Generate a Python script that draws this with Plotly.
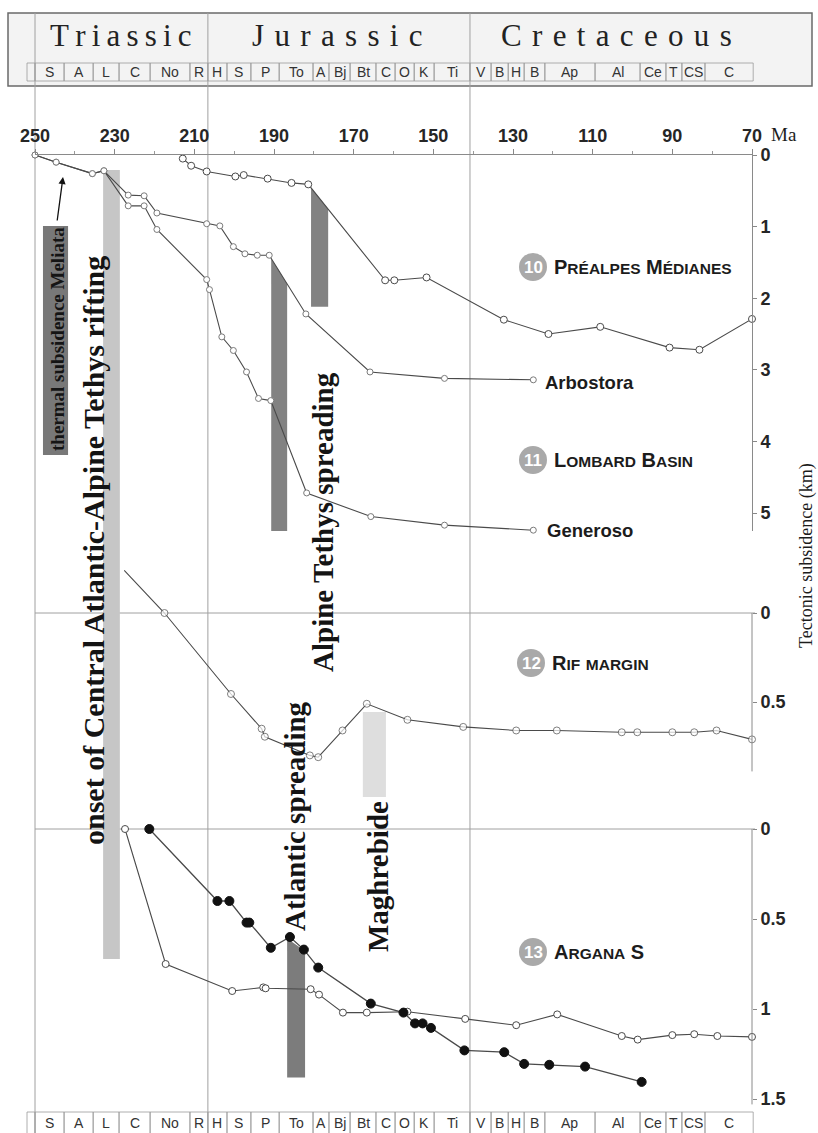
import numpy as np
import plotly.graph_objects as go

# ---------------- time scale ----------------
AGE_TICKS = [250, 230, 210, 190, 170, 150, 130, 110, 90, 70]
PERIOD_NAMES = ["Triassic", "Jurassic", "Cretaceous"]
PERIOD_LABEL_AGES = [228.5, 174.0, 104.0]
PERIOD_BOUNDARIES = [206.6, 140.8]
STAGE_NAMES = ["S", "A", "L", "C", "No", "R",
               "H", "S", "P", "To", "A", "Bj", "Bt", "C", "O", "K", "Ti",
               "V", "B", "H", "B", "Ap", "Al", "Ce", "T", "CS", "C"]
STAGE_BOUNDS = [250, 242.7, 235.4, 228.9, 221.1, 211.1, 206.6, 201.8, 195.8, 188.7,
                180.2, 176.2, 170.9, 164.4, 159.6, 154.8, 149.8, 140.8, 135.5, 131.2,
                127.2, 122.0, 109.4, 98.1, 91.6, 87.6, 81.8, 69.7]

# ---------------- tectonic subsidence curves (age Ma, depth km) ----------------
PREALPES_AGE = [212.9, 210.8, 206.9, 199.7, 197.6, 191.6, 185.6, 181.4, 162.1, 159.8,
                151.7, 132.3, 121.1, 108.1, 90.7, 83.2, 70.0]
PREALPES_DEPTH = [0.05, 0.15, 0.23, 0.30, 0.28, 0.33, 0.39, 0.41, 1.75, 1.75,
                  1.71, 2.30, 2.50, 2.40, 2.69, 2.72, 2.29]

ARBOSTORA_AGE = [250.0, 244.7, 235.6, 232.7, 226.6, 222.6, 219.4, 206.9, 203.6, 200.2,
                 197.3, 194.2, 191.2, 182.0, 165.9, 147.2, 124.9]
ARBOSTORA_DEPTH = [0.00, 0.10, 0.26, 0.22, 0.56, 0.57, 0.81, 0.96, 0.99, 1.28,
                   1.38, 1.40, 1.40, 2.22, 3.03, 3.12, 3.14]

GENEROSO_AGE = [250.0, 244.7, 235.6, 232.7, 226.6, 222.6, 219.4, 206.9, 206.2, 203.1,
                200.2, 196.9, 193.9, 190.8, 181.8, 165.7, 147.2, 124.9]
GENEROSO_DEPTH = [0.00, 0.10, 0.26, 0.22, 0.71, 0.71, 1.04, 1.74, 1.88, 2.54,
                  2.73, 3.03, 3.40, 3.43, 4.72, 5.05, 5.17, 5.24]

RIF_AGE = [227.6, 217.5, 200.8, 193.1, 192.3, 181.0, 178.9, 172.8, 166.7, 156.5,
           142.5, 129.2, 119.0, 102.7, 98.8, 90.0, 84.5, 78.9, 70.0]
RIF_DEPTH = [-0.24, 0.00, 0.455, 0.65, 0.695, 0.80, 0.81, 0.66, 0.51, 0.60,
             0.64, 0.66, 0.66, 0.67, 0.67, 0.67, 0.67, 0.66, 0.71]

ARGANA_OPEN_AGE = [227.4, 217.2, 200.5, 192.7, 192.1, 180.8, 178.7, 172.7, 166.7, 156.5,
                   142.0, 129.2, 118.9, 102.7, 98.7, 90.0, 84.5, 78.7, 70.0]
ARGANA_OPEN_DEPTH = [0.00, 0.75, 0.90, 0.88, 0.885, 0.89, 0.92, 1.02, 1.02, 1.015,
                     1.055, 1.09, 1.03, 1.15, 1.17, 1.145, 1.14, 1.15, 1.155]

ARGANA_FILLED_AGE = [221.3, 204.2, 201.2, 196.9, 196.2, 190.8, 186.0, 182.5, 178.9, 165.7,
                     157.5, 154.6, 152.7, 150.6, 142.2, 132.2, 127.2, 120.9, 111.9, 97.7]
ARGANA_FILLED_DEPTH = [0.00, 0.40, 0.40, 0.52, 0.52, 0.66, 0.60, 0.67, 0.77, 0.97,
                       1.02, 1.08, 1.08, 1.105, 1.23, 1.24, 1.305, 1.31, 1.32, 1.405]

# ---------------- geodynamic event intervals (Ma) ----------------
MELIATA_AGES = (248.0, 241.7)
MELIATA_DEPTH = (0.99, 4.19)
RIFTING_AGES = (232.9, 228.7)
PREALPES_SPREADING_AGES = (180.7, 176.4)
PREALPES_SPREADING_BOTTOM = 2.12
LOMBARD_SPREADING_AGES = (190.7, 186.7)
LOMBARD_SPREADING_BOTTOM = 5.25
ATLANTIC_SPREADING_AGES = (186.7, 182.2)
ATLANTIC_SPREADING_BOTTOM = 1.38
MAGHREBIDE_AGES = (167.7, 161.9)

# ---------------- page geometry ----------------
W, H = 818, 1133
X_LEFT_PX, X_RIGHT_PX = 35, 752
AGE_MAX, AGE_MIN = 250, 70


def px_x(px):
    return px / W


def px_y(py):
    return 1 - py / H


def age_x(age):
    return px_x(X_LEFT_PX + (AGE_MAX - age) * (X_RIGHT_PX - X_LEFT_PX) / (AGE_MAX - AGE_MIN))


PANELS = {
    "y": dict(zero=155, scale=71.6, rng=(0.0, 5.25)),
    "y2": dict(zero=613, scale=178.0, rng=(-0.27, 0.90)),
    "y3": dict(zero=829, scale=180.0, rng=(-0.03, 1.55)),
}


def panel_domain(p):
    top = p["zero"] + p["rng"][0] * p["scale"]
    bot = p["zero"] + p["rng"][1] * p["scale"]
    return [px_y(bot), px_y(top)]


def curve_at(age, ages, depths):
    return float(np.interp(-age, -np.asarray(ages), np.asarray(depths)))


SANS = "Liberation Sans, Arial, sans-serif"
SERIF = "Liberation Serif, Times New Roman, serif"
NARROW = "Liberation Sans Narrow, Arial Narrow, Liberation Sans, sans-serif"
INK = "#1c1c1c"
LINE = "#4a4a4a"

fig = go.Figure()


def add_curve(ages, depths, axis, edge, fill, size, width=1.1):
    fig.add_trace(go.Scatter(
        x=ages, y=depths, xaxis="x", yaxis=axis, mode="lines+markers",
        line=dict(color=LINE, width=width),
        marker=dict(symbol="circle", size=size, color=fill, line=dict(color=edge, width=1)),
        cliponaxis=False, hoverinfo="skip", showlegend=False))


add_curve(PREALPES_AGE, PREALPES_DEPTH, "y", "#4a4a4a", "white", 7)
add_curve(ARBOSTORA_AGE, ARBOSTORA_DEPTH, "y", "#7a7a7a", "white", 6)
add_curve(GENEROSO_AGE, GENEROSO_DEPTH, "y", "#7a7a7a", "white", 6)
add_curve(RIF_AGE, RIF_DEPTH, "y2", "#4a4a4a", "white", [0] + [7] * (len(RIF_AGE) - 1))
add_curve(ARGANA_OPEN_AGE, ARGANA_OPEN_DEPTH, "y3", "#4a4a4a", "white", 7)
add_curve(ARGANA_FILLED_AGE, ARGANA_FILLED_DEPTH, "y3", "#111111", "#111111", 9, width=1.3)

shapes = []

# header box with period and stage cells
shapes.append(dict(type="rect", xref="paper", yref="paper", layer="below",
                   x0=px_x(8), x1=px_x(812), y0=px_y(86), y1=px_y(13),
                   fillcolor="#f3f3f3", line=dict(color="#6a6a6a", width=1.5)))


def stage_row(top_px, bot_px):
    shapes.append(dict(type="rect", xref="paper", yref="paper", layer="below",
                       x0=px_x(27), x1=age_x(STAGE_BOUNDS[0]), y0=px_y(bot_px), y1=px_y(top_px),
                       line=dict(color="#9a9a9a", width=0.8)))
    for a0, a1 in zip(STAGE_BOUNDS[:-1], STAGE_BOUNDS[1:]):
        shapes.append(dict(type="rect", xref="paper", yref="paper", layer="below",
                           x0=age_x(a0), x1=age_x(a1), y0=px_y(bot_px), y1=px_y(top_px),
                           line=dict(color="#9a9a9a", width=0.8)))


stage_row(63, 81)
stage_row(1112, 1136)

# vertical frame / period gridlines through the whole figure
for a in [AGE_MAX] + PERIOD_BOUNDARIES:
    shapes.append(dict(type="line", xref="paper", yref="paper", layer="below",
                       x0=age_x(a), x1=age_x(a), y0=0, y1=px_y(13),
                       line=dict(color="#a0a0a0", width=1)))

# zero lines of the lower two panels
for ax in ("y2", "y3"):
    shapes.append(dict(type="line", xref="paper", yref=ax, layer="below",
                       x0=age_x(AGE_MAX), x1=age_x(AGE_MIN) + 3 / W, y0=0, y1=0,
                       line=dict(color="#a0a0a0", width=1)))

# right-hand axis lines of the lower two panels
shapes.append(dict(type="line", xref="paper", yref="y2", x0=age_x(AGE_MIN), x1=age_x(AGE_MIN),
                   y0=0, y1=0.89, line=dict(color="#8a8a8a", width=1)))
shapes.append(dict(type="line", xref="paper", yref="y3", x0=age_x(AGE_MIN), x1=age_x(AGE_MIN),
                   y0=0, y1=1.53, line=dict(color="#8a8a8a", width=1)))

# event bars
shapes.append(dict(type="rect", xref="x", yref="y", layer="below",
                   x0=MELIATA_AGES[0], x1=MELIATA_AGES[1], y0=MELIATA_DEPTH[0], y1=MELIATA_DEPTH[1],
                   fillcolor="#787878", line=dict(width=0)))
shapes.append(dict(type="rect", xref="x", yref="paper", layer="below",
                   x0=RIFTING_AGES[0], x1=RIFTING_AGES[1], y0=px_y(959), y1=px_y(170),
                   fillcolor="#c6c6c6", line=dict(width=0)))
shapes.append(dict(type="rect", xref="x", yref="paper", layer="below",
                   x0=MAGHREBIDE_AGES[0], x1=MAGHREBIDE_AGES[1], y0=px_y(797), y1=px_y(712),
                   fillcolor="#dedede", line=dict(width=0)))


def bar_under_curve(ages, bottom, c_age, c_depth, axis, color):
    a0, a1 = ages
    t0, t1 = curve_at(a0, c_age, c_depth), curve_at(a1, c_age, c_depth)
    path = f"M {a0},{t0} L {a1},{t1} L {a1},{bottom} L {a0},{bottom} Z"
    shapes.append(dict(type="path", xref="x", yref=axis, layer="below", path=path,
                       fillcolor=color, line=dict(width=0)))


bar_under_curve(PREALPES_SPREADING_AGES, PREALPES_SPREADING_BOTTOM,
                PREALPES_AGE, PREALPES_DEPTH, "y", "#828282")
bar_under_curve(LOMBARD_SPREADING_AGES, LOMBARD_SPREADING_BOTTOM,
                ARBOSTORA_AGE, ARBOSTORA_DEPTH, "y", "#828282")
bar_under_curve(ATLANTIC_SPREADING_AGES, ATLANTIC_SPREADING_BOTTOM,
                ARGANA_FILLED_AGE, ARGANA_FILLED_DEPTH, "y3", "#7c7c7c")

annotations = []


def note(px, py, text, font, **kw):
    d = dict(xref="paper", yref="paper", x=px_x(px), y=px_y(py), text=text,
             showarrow=False, xanchor="center", yanchor="middle", font=font)
    d.update(kw)
    annotations.append(d)


# period names
PERIOD_SPACING = ["\u2009", "\u2004", "\u2004"]
for name, a, sp in zip(PERIOD_NAMES, PERIOD_LABEL_AGES, PERIOD_SPACING):
    annotations.append(dict(xref="paper", yref="paper", x=age_x(a), y=px_y(36),
                            text=sp.join(name), showarrow=False,
                            xanchor="center", yanchor="middle",
                            font=dict(family=SERIF, size=31, color="#222")))

# stage labels (top and bottom rows)
for row_y in (72, 1123):
    for name, a0, a1 in zip(STAGE_NAMES, STAGE_BOUNDS[:-1], STAGE_BOUNDS[1:]):
        annotations.append(dict(xref="paper", yref="paper", x=(age_x(a0) + age_x(a1)) / 2,
                                y=px_y(row_y), text=name, showarrow=False,
                                xanchor="center", yanchor="middle",
                                font=dict(family=NARROW, size=14, color="#333")))

# "Ma" unit next to the age axis
note(784, 134, "Ma", dict(family=SERIF, size=19, color=INK))

# vertical axis title
note(807, 556, "Tectonic subsidence (km)", dict(family=SERIF, size=18, color=INK),
     textangle=-90)

# rotated event labels
EVENT_LABELS = [
    ("thermal subsidence Meliata", 57, 339, 19),
    ("onset of Central Atlantic-Alpine Tethys rifting", 93, 551, 30),
    ("Alpine Tethys spreading", 323, 522, 29),
    ("Atlantic spreading", 295, 816, 29),
    ("Maghrebide", 378, 877, 29),
]
for text, cx, cy, size in EVENT_LABELS:
    note(cx, cy, f"<b>{text}</b>", dict(family=SERIF, size=size, color="#141414"),
         textangle=-90)

# arrow from the Meliata box to the curve
annotations.append(dict(xref="paper", yref="paper", x=px_x(63), y=px_y(177), text="",
                        showarrow=True, ax=-6, ay=45, arrowhead=2, arrowsize=1.1,
                        arrowwidth=1.3, arrowcolor="#111"))


def small_caps(text, small=15.5):
    """Render text in small capitals: capitals stay full size, lower case shrinks."""
    out, run = [], ""
    for ch in text:
        if ch.islower():
            run += ch.upper()
        else:
            if run:
                out.append(f"<span style='font-size:{small}px'>{run}</span>")
                run = ""
            out.append(ch)
    if run:
        out.append(f"<span style='font-size:{small}px'>{run}</span>")
    return "<b>" + "".join(out) + "</b>"


SITE_LABELS = [
    ("10", small_caps("Préalpes Médianes"), 533, 267),
    ("11", small_caps("Lombard Basin"), 533, 460),
    ("12", small_caps("Rif margin"), 531, 663),
    ("13", small_caps("Argana S"), 533, 952),
]
for num, label, cx, cy in SITE_LABELS:
    shapes.append(dict(type="circle", xref="paper", yref="paper",
                       xsizemode="pixel", ysizemode="pixel",
                       xanchor=px_x(cx), yanchor=px_y(cy), x0=-14, x1=14, y0=-14, y1=14,
                       fillcolor="#a9a9a9", line=dict(width=0)))
    note(cx, cy, f"<b>{num}</b>", dict(family=SANS, size=17, color="white"))
    note(cx + 19, cy, label, dict(family=SANS, size=20, color=INK), xanchor="left")

# section names at curve ends
for text, lx, ly in [("Arbostora", 543, 382), ("Generoso", 545, 530)]:
    note(lx, ly, f"<b>{text}</b>", dict(family=SANS, size=18.5, color=INK), xanchor="left")

tick_font = dict(family=SANS, size=18, color="#262626", weight="bold")

fig.update_layout(
    width=W, height=H, margin=dict(l=0, r=0, t=0, b=0, autoexpand=False),
    paper_bgcolor="white", plot_bgcolor="rgba(0,0,0,0)",
    showlegend=False, shapes=shapes, annotations=annotations,
    xaxis=dict(domain=[px_x(X_LEFT_PX), px_x(X_RIGHT_PX)], range=[AGE_MAX, AGE_MIN],
               side="top", anchor="y", tickvals=AGE_TICKS, ticks="outside", ticklen=5,
               tickcolor="#888", showline=True, linecolor="#8a8a8a", linewidth=1,
               showgrid=False, zeroline=False, tickfont=tick_font, automargin=False,
               minor=dict(dtick=10, tick0=250, ticks="outside", ticklen=3, tickcolor="#999")),
    yaxis=dict(domain=panel_domain(PANELS["y"]), range=list(PANELS["y"]["rng"])[::-1],
               side="right", anchor="x", tickvals=[0, 1, 2, 3, 4, 5], ticks="outside",
               ticklen=4, tickcolor="#888", showline=True, linecolor="#8a8a8a",
               showgrid=False, zeroline=False, tickfont=tick_font, automargin=False),
    yaxis2=dict(domain=panel_domain(PANELS["y2"]), range=list(PANELS["y2"]["rng"])[::-1],
                side="right", anchor="x", tickvals=[0, 0.5], ticktext=["0", "0.5"],
                ticks="outside", ticklen=4, tickcolor="#888", showline=False,
                showgrid=False, zeroline=False, tickfont=tick_font, automargin=False),
    yaxis3=dict(domain=panel_domain(PANELS["y3"]), range=list(PANELS["y3"]["rng"])[::-1],
                side="right", anchor="x", tickvals=[0, 0.5, 1, 1.5],
                ticktext=["0", "0.5", "1", "1.5"], ticks="outside", ticklen=4,
                tickcolor="#888", showline=False, showgrid=False, zeroline=False,
                tickfont=tick_font, automargin=False),
)

fig.write_html("out.html")
